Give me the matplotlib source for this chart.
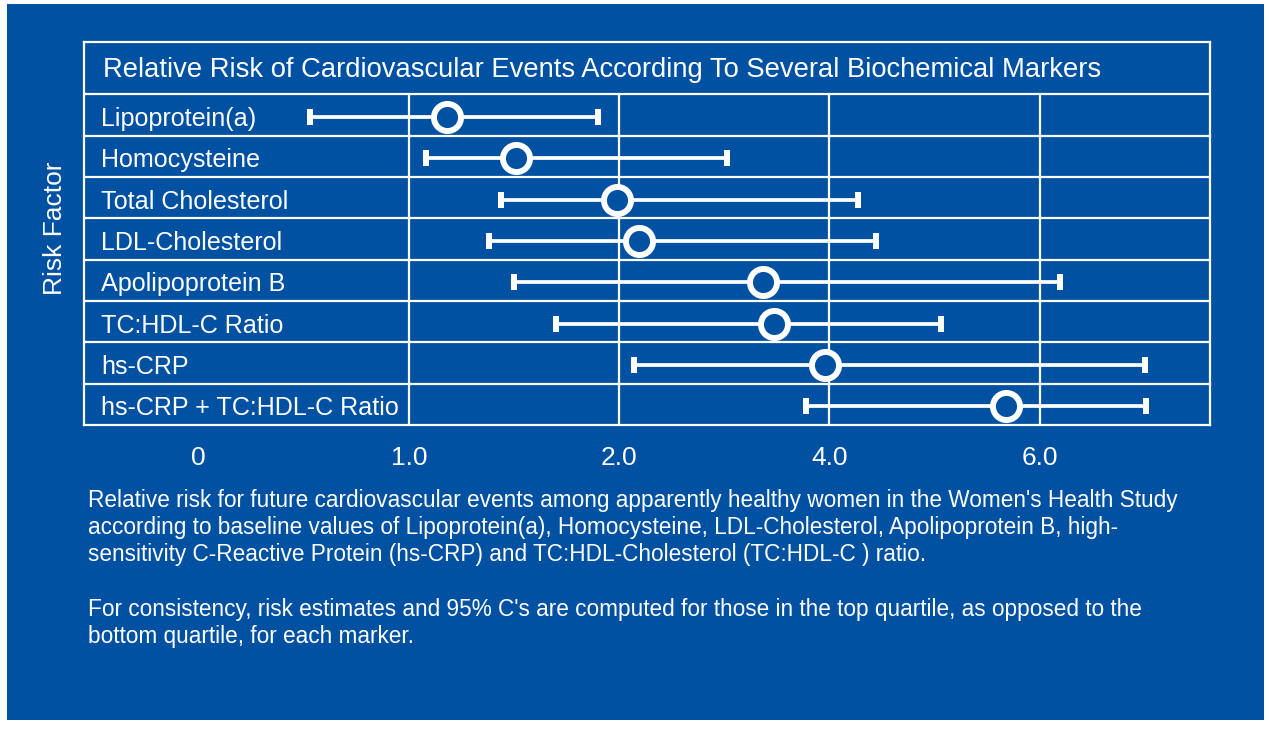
import numpy as np
import matplotlib.pyplot as plt
from matplotlib.patches import Rectangle
from matplotlib.transforms import blended_transform_factory

plt.rcParams['font.family'] = ['Liberation Sans', 'DejaVu Sans']

BLUE = '#0051a2'

factors = ['Lipoprotein(a)', 'Homocysteine', 'Total Cholesterol', 'LDL-Cholesterol',
           'Apolipoprotein B', 'TC:HDL-C Ratio', 'hs-CRP', 'hs-CRP + TC:HDL-C Ratio']
rr = [1.18, 1.51, 1.99, 2.19, 3.37, 3.47, 3.96, 5.68]
ci_low = [0.53, 1.08, 1.44, 1.38, 1.50, 1.70, 2.14, 3.78]
ci_high = [1.90, 3.03, 4.27, 4.44, 6.19, 5.06, 7.00, 7.01]
tick_vals = [0, 1, 2, 4, 6]
tick_labels = ['0', '1.0', '2.0', '4.0', '6.0']

title = 'Relative Risk of Cardiovascular Events According To Several Biochemical Markers'
caption = ("Relative risk for future cardiovascular events among apparently healthy women in the Women's Health Study\n"
           "according to baseline values of Lipoprotein(a), Homocysteine, LDL-Cholesterol, Apolipoprotein B, high-\n"
           "sensitivity C-Reactive Protein (hs-CRP) and TC:HDL-Cholesterol (TC:HDL-C ) ratio.\n"
           "\n"
           "For consistency, risk estimates and 95% C's are computed for those in the top quartile, as opposed to the\n"
           "bottom quartile, for each marker.")

# the chart's axis is spaced evenly between 0, 1, 2, 4, 6
knots_v = [-2, 0, 1, 2, 4, 6, 10]
knots_u = [-2, 0, 1, 2, 3, 4, 6]


def forward(v):
    return np.interp(v, knots_v, knots_u)


def inverse(u):
    return np.interp(u, knots_u, knots_v)


W, H = 1269, 737
fig = plt.figure(figsize=(W / 100, H / 100), dpi=100, facecolor='white')
fig.patches.append(Rectangle((7 / W, 1 - 720 / H), (1264 - 7) / W, (720 - 4) / H,
                             transform=fig.transFigure, facecolor=BLUE,
                             edgecolor='none', zorder=-10))

ax = fig.add_axes([84 / W, 1 - 425 / H, (1210 - 84) / W, (425 - 41.5) / H])
ax.set_facecolor(BLUE)
ax.set_xscale('function', functions=(forward, inverse))
ax.set_xlim(-0.5445, 7.62)
title_rows = 52.8 / 41.3
ax.set_ylim(8, -title_rows)

for s in ax.spines.values():
    s.set_color('white')
    s.set_linewidth(1.6)

for yy in range(0, 8):
    ax.axhline(yy, color='white', lw=1.6, zorder=1)
ax.vlines(tick_vals[1:], 0, 8, color='white', lw=1.6, zorder=1)

y = np.arange(len(factors)) + 0.55
rr_a = np.array(rr)
xerr = [rr_a - np.array(ci_low), np.array(ci_high) - rr_a]
ax.errorbar(rr, y, xerr=xerr, fmt='o', color='white', ecolor='white',
            elinewidth=2.7, capsize=5.5, capthick=2.7,
            markersize=19.5, markeredgewidth=4.3, markerfacecolor=BLUE,
            markeredgecolor='white', zorder=3)

tr = blended_transform_factory(ax.transAxes, ax.transData)
for i, name in enumerate(factors):
    ax.text(17 / 1126, i + 0.6, name, transform=tr, color='white',
            fontsize=18.1, va='center', ha='left')
ax.text(19 / 1126, -title_rows / 2 + 0.04, title, transform=tr, color='white',
        fontsize=19.7, va='center', ha='left')

ax.set_xticks(tick_vals)
ax.set_xticklabels(tick_labels)
ax.tick_params(axis='x', length=0, pad=15, labelsize=19, labelcolor='white')
ax.set_yticks([])
ax.xaxis.set_minor_locator(plt.NullLocator())

fig.text(55 / W, 1 - 228 / H, 'Risk Factor', rotation=90, color='white',
         fontsize=19, ha='center', va='center')
fig.text(88 / W, 1 - 489 / H, caption, color='white', fontsize=16.3,
         ha='left', va='top', linespacing=1.23)

fig.savefig('out.png', dpi=100, facecolor='white')
